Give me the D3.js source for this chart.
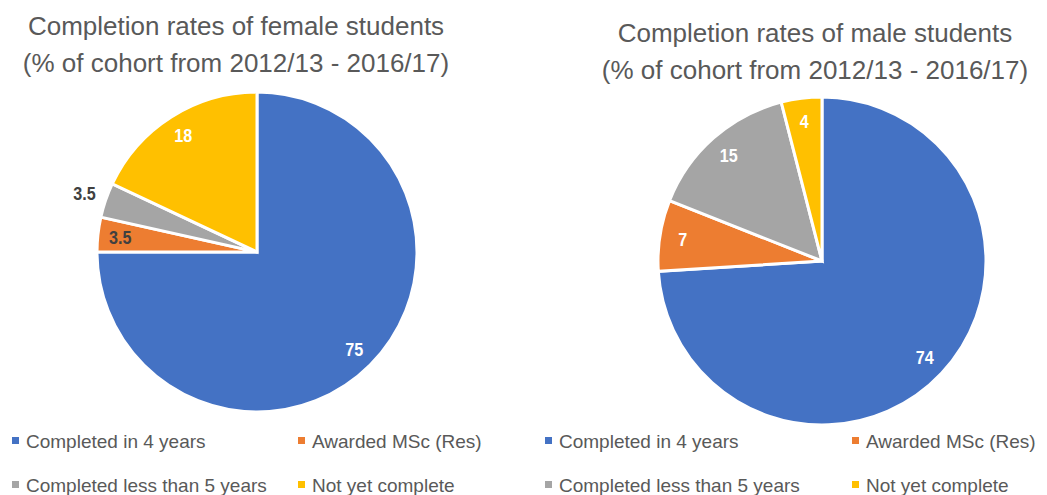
<!DOCTYPE html>
<html>
<head>
<meta charset="utf-8">
<script src="https://cdn.jsdelivr.net/npm/d3@7"></script>
<style>
  body { margin: 0; background: #fff; }
  text { font-family: "Liberation Sans", Arial, sans-serif; }
</style>
</head>
<body>
<div id="chart"></div>
<script>
// categories and values
var categories = ["Completed in 4 years", "Awarded MSc (Res)", "Completed less than 5 years", "Not yet complete"];
var femaleValues = [75, 3.5, 3.5, 18];
var maleValues = [74, 7, 15, 4];
var femaleTitle = ["Completion rates of female students", "(% of cohort from 2012/13 - 2016/17)"];
var maleTitle = ["Completion rates of male students", "(% of cohort from 2012/13 - 2016/17)"];

var colors = ["#4472C4", "#ED7D31", "#A5A5A5", "#FFC000"];

var svg = d3.select("#chart")
    .append("svg")
    .attr("width", 1047)
    .attr("height", 495);

var color = d3.scaleOrdinal().domain(categories).range(colors);

// draw one pie with its title and legend
function drawPie(values, title, opts) {
    var data = categories.map(function (c, i) { return { name: c, value: values[i] }; });
    var pie = d3.pie().sort(null).value(d => d.value);
    var arcs = pie(data);
    var r = opts.r;

    var g = svg.append("g")
        .attr("transform", `translate(${opts.cx}, ${opts.cy})`);

    var arc = d3.arc().innerRadius(0).outerRadius(r);
    g.selectAll("path")
        .data(arcs)
        .enter()
        .append("path")
        .attr("d", arc)
        .attr("fill", d => color(d.data.name))
        .attr("stroke", "#fff")
        .attr("stroke-width", 3)
        .attr("stroke-linejoin", "miter");

    // labels
    var labelArc = d3.arc().innerRadius(r * 0.86).outerRadius(r * 0.86);
    var outArc = d3.arc().innerRadius(r * 1.14).outerRadius(r * 1.14);
    g.selectAll("text.lbl")
        .data(arcs)
        .enter()
        .append("text")
        .attr("class", "lbl")
        .attr("transform", (d, i) => `translate(${(opts.outside.includes(i) ? outArc : labelArc).centroid(d)}) scale(0.85, 1)`)
        .attr("dy", "0.35em")
        .attr("text-anchor", "middle")
        .style("font-weight", "bold")
        .style("font-size", "19px")
        .style("fill", (d, i) => opts.dark.includes(i) ? "#404040" : "#fff")
        .text(d => d.data.value);

    // title
    svg.append("g")
        .selectAll("text")
        .data(title)
        .enter()
        .append("text")
        .attr("x", opts.tx)
        .attr("y", (d, i) => opts.ty + i * 37)
        .attr("text-anchor", "middle")
        .style("font-size", "26px")
        .style("fill", "#595959")
        .text(d => d);

    // legend
    var leg = svg.append("g")
        .selectAll("g")
        .data(categories)
        .enter()
        .append("g")
        .attr("transform", (d, i) => `translate(${opts.lx + (i % 2) * opts.colGap}, ${441 + Math.floor(i / 2) * 44})`);
    leg.append("rect")
        .attr("x", 0)
        .attr("y", -4)
        .attr("width", 7)
        .attr("height", 7)
        .attr("fill", d => color(d));
    leg.append("text")
        .attr("x", 14)
        .attr("y", 0)
        .attr("dy", "0.35em")
        .style("font-size", "19px")
        .style("fill", "#595959")
        .text(d => d);
}

drawPie(femaleValues, femaleTitle, {
    cx: 257, cy: 252, r: 160, tx: 236, ty: 35,
    lx: 12, colGap: 286, outside: [2], dark: [1, 2]
});
drawPie(maleValues, maleTitle, {
    cx: 822, cy: 261, r: 164, tx: 815, ty: 42,
    lx: 545, colGap: 307, outside: [], dark: []
});
</script>
</body>
</html>
